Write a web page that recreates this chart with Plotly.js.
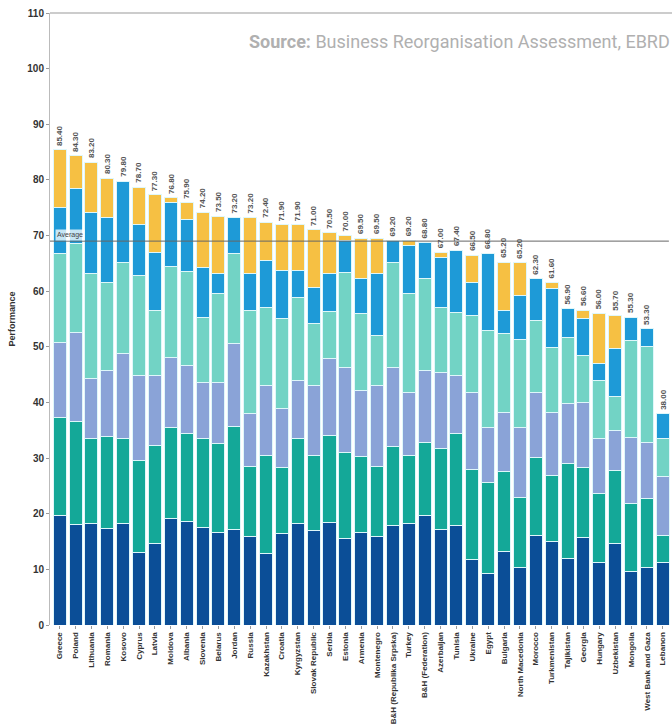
<!DOCTYPE html>
<html>
<head>
<meta charset="utf-8">
<script src="https://cdn.plot.ly/plotly-3.0.1.min.js"></script>
<style>
html,body{margin:0;padding:0;background:#fff;}
#chart{width:672px;height:727px;}
</style>
</head>
<body>
<div id="chart"></div>
<script>
const countries = ["Greece","Poland","Lithuania","Romania","Kosovo","Cyprus","Latvia","Moldova","Albania","Slovenia","Belarus","Jordan","Russia","Kazakhstan","Croatia","Kyrgyzstan","Slovak Republic","Serbia","Estonia","Armenia","Montenegro","B&H (Republika Srpska)","Turkey","B&H (Federation)","Azerbaijan","Tunisia","Ukraine","Egypt","Bulgaria","North Macedonia","Morocco","Turkmenistan","Tajikistan","Georgia","Hungary","Uzbekistan","Mongolia","West Bank and Gaza","Lebanon"];

const seriesA = [19.6,18.0,18.2,17.3,18.2,13.0,14.6,19.1,18.6,17.5,16.6,17.1,15.9,12.8,16.4,18.2,16.9,18.4,15.5,16.6,15.9,17.8,18.2,19.6,17.1,17.8,11.7,9.2,13.2,10.3,16.0,15.0,11.9,15.7,11.2,14.6,9.7,10.3,11.2];
const seriesB = [17.7,18.6,15.3,16.6,15.3,16.5,17.7,16.4,15.8,16.0,16.0,18.6,12.6,17.7,11.9,15.3,13.6,15.7,15.5,13.7,12.6,14.3,12.3,13.2,14.6,16.6,16.2,16.4,14.4,12.6,14.1,11.8,17.1,12.6,12.4,13.1,12.1,12.4,4.8];
const seriesC = [13.5,16.0,10.8,11.9,15.3,15.4,12.6,12.6,12.3,10.1,11.0,14.9,9.5,12.6,10.6,10.5,12.6,13.8,15.3,11.9,14.6,14.2,11.3,13.0,13.7,10.5,13.9,9.9,10.6,12.6,11.7,11.4,10.8,11.7,9.9,7.3,11.9,10.1,10.7];
const seriesD = [16.0,15.9,18.9,15.8,16.4,18.0,11.7,16.4,16.9,11.7,16.0,16.2,18.6,14.0,16.2,14.9,11.1,8.5,17.1,13.8,9.0,18.9,17.8,16.5,11.7,11.3,13.9,17.5,14.2,15.9,13.0,11.7,11.9,8.5,10.5,6.1,17.5,17.3,6.8];
const seriesE = [8.3,9.9,11.0,11.7,14.6,9.0,10.4,11.4,9.2,9.0,3.6,6.4,6.6,8.5,8.7,4.9,6.5,6.8,5.8,6.3,11.1,4.0,8.7,6.5,9.0,11.2,5.9,13.8,4.2,7.9,7.5,10.6,5.2,6.6,3.0,8.6,4.1,3.2,4.5];
const seriesF = [10.3,5.9,9.0,7.0,0,6.8,10.3,0.9,3.1,9.9,10.3,0,10.0,6.8,8.1,8.1,10.3,7.3,0.8,7.2,6.3,0,0.9,0,0.9,0,4.9,0,8.6,5.9,0,1.1,0,1.5,9.0,6.0,0,0,0];
const averageValue = 69.0;

const seriesList = [seriesA, seriesB, seriesC, seriesD, seriesE, seriesF];
const colors = ["#0b4e97","#14a898","#8aa3d7","#72d3c5","#1e9ad7","#f6c043"];

const x = countries.map((c, i) => i);
const traces = seriesList.map((s, k) => ({
  type: "bar",
  x: x,
  y: s,
  marker: {color: colors[k], line: {color: "#dff7fa", width: 1}},
  hoverinfo: "y",
  showlegend: false
}));

const totals = countries.map((c, i) => seriesList.reduce((a, s) => a + s[i], 0));

const annotations = totals.map((t, i) => ({
  x: i, y: t, xref: "x", yref: "y",
  text: t.toFixed(2),
  textangle: -90,
  showarrow: false,
  yanchor: "bottom",
  xanchor: "center",
  yshift: 2,
  font: {family: "Liberation Sans Narrow, Liberation Sans, Arial, sans-serif", size: 8, color: "#555", weight: "bold"}
}));

annotations.push({
  xref: "paper", yref: "paper", x: 1, y: 0.953,
  xanchor: "right", yanchor: "middle", showarrow: false,
  text: "<b>Source:</b> Business Reorganisation Assessment, EBRD",
  font: {family: "Liberation Sans Narrow, Roboto, sans-serif", size: 18, color: "#b0b0b0"}
});

annotations.push({
  xref: "paper", yref: "y", x: 0.008, y: averageValue,
  xanchor: "left", yanchor: "bottom", showarrow: false,
  text: "Average",
  bgcolor: "rgba(255,255,255,0.75)",
  borderpad: 1,
  font: {family: "Liberation Sans, Arial, sans-serif", size: 7, color: "#444"}
});

const layout = {
  width: 672, height: 727,
  margin: {l: 50, r: 0, t: 13, b: 102, pad: 0},
  paper_bgcolor: "#fff", plot_bgcolor: "#fff",
  barmode: "stack",
  bargap: 0.18,
  xaxis: {
    range: [-0.61, 38.58],
    tickvals: x, ticktext: countries,
    tickangle: -90,
    ticks: "outside", ticklen: 3, tickcolor: "#999",
    tickson: "boundaries",
    showgrid: false, zeroline: false, showline: false,
    tickfont: {family: "Liberation Sans, Arial, sans-serif", size: 8, color: "#333", weight: "bold"}
  },
  yaxis: {
    range: [0, 110],
    tickvals: [0,10,20,30,40,50,60,70,80,90,100,110],
    ticks: "outside", ticklen: 3, tickcolor: "#999",
    showgrid: false, zeroline: false,
    showline: true, linecolor: "#bbb", linewidth: 1,
    tickfont: {family: "Liberation Sans, Arial, sans-serif", size: 10, color: "#333", weight: "bold"},
    title: {text: "Performance", standoff: 10, font: {family: "Liberation Sans, Arial, sans-serif", size: 9, color: "#333", weight: "bold"}}
  },
  shapes: [
    {type: "line", xref: "paper", yref: "paper", x0: 0, x1: 1, y0: 1, y1: 1, line: {color: "#bbb", width: 1.5}},
    {type: "line", xref: "paper", yref: "y", x0: 0, x1: 0.995, y0: averageValue, y1: averageValue, line: {color: "#666", width: 1}, layer: "above"}
  ],
  annotations: annotations
};

Plotly.newPlot("chart", traces, layout, {displayModeBar: false, staticPlot: true});
</script>
</body>
</html>
